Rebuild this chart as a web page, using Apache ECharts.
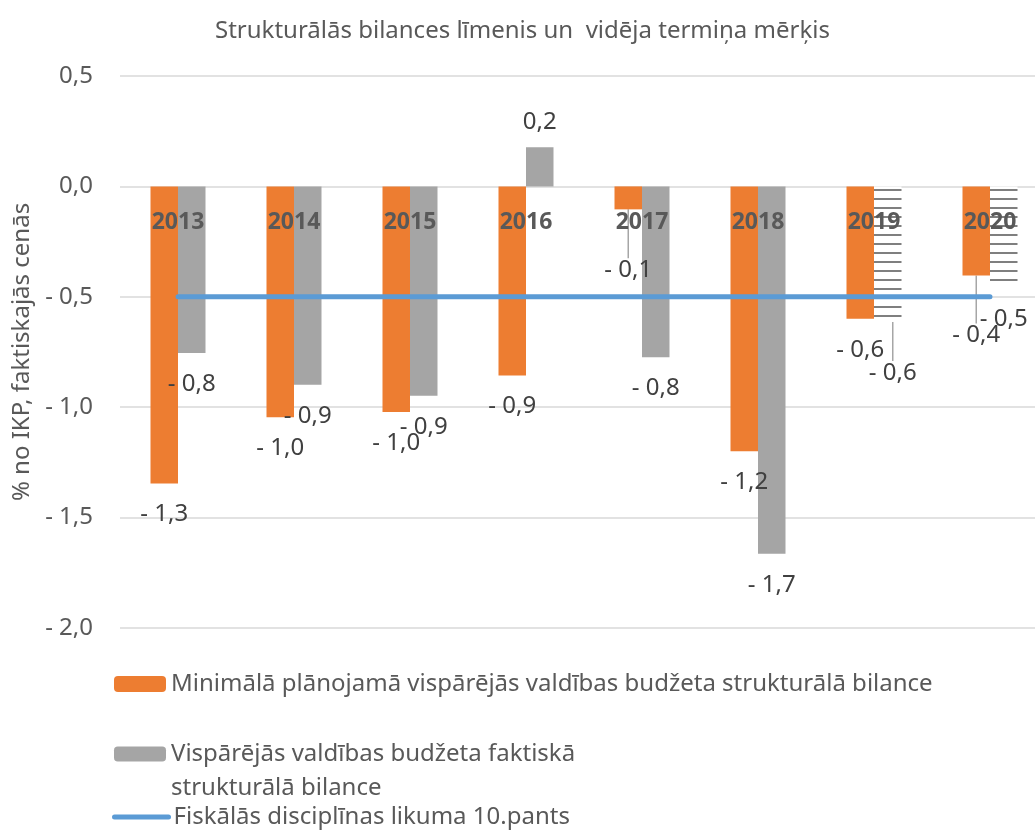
<!DOCTYPE html>
<html>
<head>
<meta charset="utf-8">
<script src="https://cdn.jsdelivr.net/npm/echarts@6/dist/echarts.min.js"></script>
<style>
    html, body {margin: 0; padding: 0; background: #fff;}
    #chart {width: 1035px; height: 831px;}
</style>
</head>
<body>
<div id="chart"></div>
<script>
// values (% of GDP)
var years = ['2013', '2014', '2015', '2016', '2017', '2018', '2019', '2020'];
var minPlanned = [-1.346, -1.045, -1.022, -0.856, -0.104, -1.2, -0.599, -0.403];
var actual = [-0.755, -0.898, -0.948, 0.177, -0.774, -1.664, -0.614, -0.459];
var lawTarget = [-0.5, -0.5, -0.5, -0.5, -0.5, -0.5, -0.5, -0.5];
var forecastYears = ['2019', '2020'];
var yTicks = [-2, -1.5, -1, -0.5, 0, 0.5];

var names = [
    'Minimālā plānojamā vispārējās valdības budžeta strukturālā bilance',
    'Vispārējās valdības budžeta faktiskā strukturālā bilance',
    'Fiskālās disciplīnas likuma 10.pants'
];

var FONT = 'Noto Sans';
var ORANGE = '#ED7D31', GREY = '#A5A5A5', BLUE = '#5B9BD5';
var GRID_TOP = 76, GRID_H = 552;
var Y_MIN = yTicks[0], Y_MAX = yTicks[yTicks.length - 1];

function fmt (v){
    var s = Math.abs(v).toFixed(1).replace('.', ',');
    return v < 0 ? '- ' + s : s;
}

// horizontal stripes for the forecast bars
function stripes (){
    var c = document.createElement('canvas');
    c.width = 8;
    c.height = 9;
    var ctx = c.getContext('2d');
    ctx.fillStyle = '#fff';
    ctx.fillRect(0, 0, 8, 9);
    ctx.fillStyle = '#7f7f7f';
    ctx.fillRect(0, 0, 8, 2);
    return c;
}
var stripePattern = {image: stripes(), repeat: 'repeat'};

// labels that Excel pushed away from their bar (with leader line)
var moved = {
    '0-4': [0, 30],
    '0-7': [0, 29],
    '1-6': [5, 20]
};
var leader = {show: true, lineStyle: {color: '#a6a6a6', width: 1.5}};

function makeItems (values, seriesIndex){
    return values.map(function (v, i){
        var item = {value: v};
        if (v > 0) item.label = {distance: 13};
        if (seriesIndex === 1 && forecastYears.indexOf(years[i]) >= 0){
            item.itemStyle = {color: stripePattern};
        }
        if (moved[seriesIndex + '-' + i]) item.labelLine = leader;
        return item;
    });
}

var barLabel = {
    show: true,
    position: 'outside',
    distance: 19,
    color: '#404040',
    fontFamily: FONT,
    fontSize: 24,
    formatter: function (p){ return fmt(p.value); }
};

var legendText = {color: '#595959', fontFamily: FONT, fontSize: 24};

var chart = echarts.init(document.getElementById('chart'));
chart.setOption({
    animation: false,
    backgroundColor: '#fff',
    title: {
        text: 'Strukturālās bilances līmenis un  vidēja termiņa mērķis',
        left: 210,
        top: 14,
        textStyle: {color: '#595959', fontFamily: FONT, fontSize: 24, fontWeight: 'normal'}
    },
    legend: [{
        data: [names[0]],
        left: 114, top: 672, padding: 0,
        itemWidth: 52, itemHeight: 16,
        textStyle: legendText
    }, {
        data: [names[1]],
        left: 114, top: 703, padding: 0,
        itemWidth: 52, itemHeight: 15,
        // empty first line keeps the icon level with the first text line
        formatter: function (){ return '\nVispārējās valdības budžeta faktiskā\nstrukturālā bilance'; },
        textStyle: {color: '#595959', fontFamily: FONT, fontSize: 24, lineHeight: 34}
    }, {
        data: [names[2]],
        left: 112, top: 805, padding: 0,
        itemWidth: 54, itemHeight: 16,
        itemStyle: {opacity: 0},
        lineStyle: {width: 5, cap: 'round'},
        textStyle: legendText
    }],
    grid: {left: 120, top: GRID_TOP, width: 928, height: GRID_H, outerBoundsMode: 'none'},
    xAxis: {
        type: 'category',
        data: years,
        z: 10,
        // category labels sit on the zero line, as in the Excel original
        offset: -(GRID_H - GRID_H * Y_MAX / (Y_MAX - Y_MIN)),
        axisLine: {show: false, onZero: false},
        axisTick: {show: false},
        axisLabel: {
            margin: 25,
            color: '#595959',
            fontFamily: FONT,
            fontSize: 23,
            fontWeight: 'bold'
        }
    },
    yAxis: {
        type: 'value',
        min: Y_MIN,
        max: Y_MAX,
        interval: 0.5,
        name: '% no IKP, faktiskajās cenās',
        nameLocation: 'middle',
        nameGap: 86,
        nameTextStyle: {color: '#595959', fontFamily: FONT, fontSize: 24},
        axisLine: {show: false},
        axisTick: {show: false},
        axisLabel: {
            margin: 27,
            color: '#595959',
            fontFamily: FONT,
            fontSize: 24,
            formatter: fmt
        },
        splitLine: {lineStyle: {color: '#d9d9d9', width: 1.5}}
    },
    labelLayout: function (p){
        var off = moved[p.seriesIndex + '-' + p.dataIndex];
        if (!off) return {};
        return {
            x: p.labelRect.x + off[0],
            y: p.labelRect.y + off[1]
        };
    },
    series: [{
        name: names[0],
        type: 'bar',
        barWidth: 27.5,
        barGap: '0%',
        itemStyle: {color: ORANGE},
        label: barLabel,
        data: makeItems(minPlanned, 0)
    }, {
        name: names[1],
        type: 'bar',
        barWidth: 27.5,
        barGap: '0%',
        itemStyle: {color: GREY},
        label: barLabel,
        data: makeItems(actual, 1)
    }, {
        name: names[2],
        type: 'line',
        z: 5,
        symbol: 'none',
        lineStyle: {color: BLUE, width: 5, cap: 'round'},
        itemStyle: {color: BLUE},
        data: lawTarget
    }]
});
</script>
</body>
</html>
